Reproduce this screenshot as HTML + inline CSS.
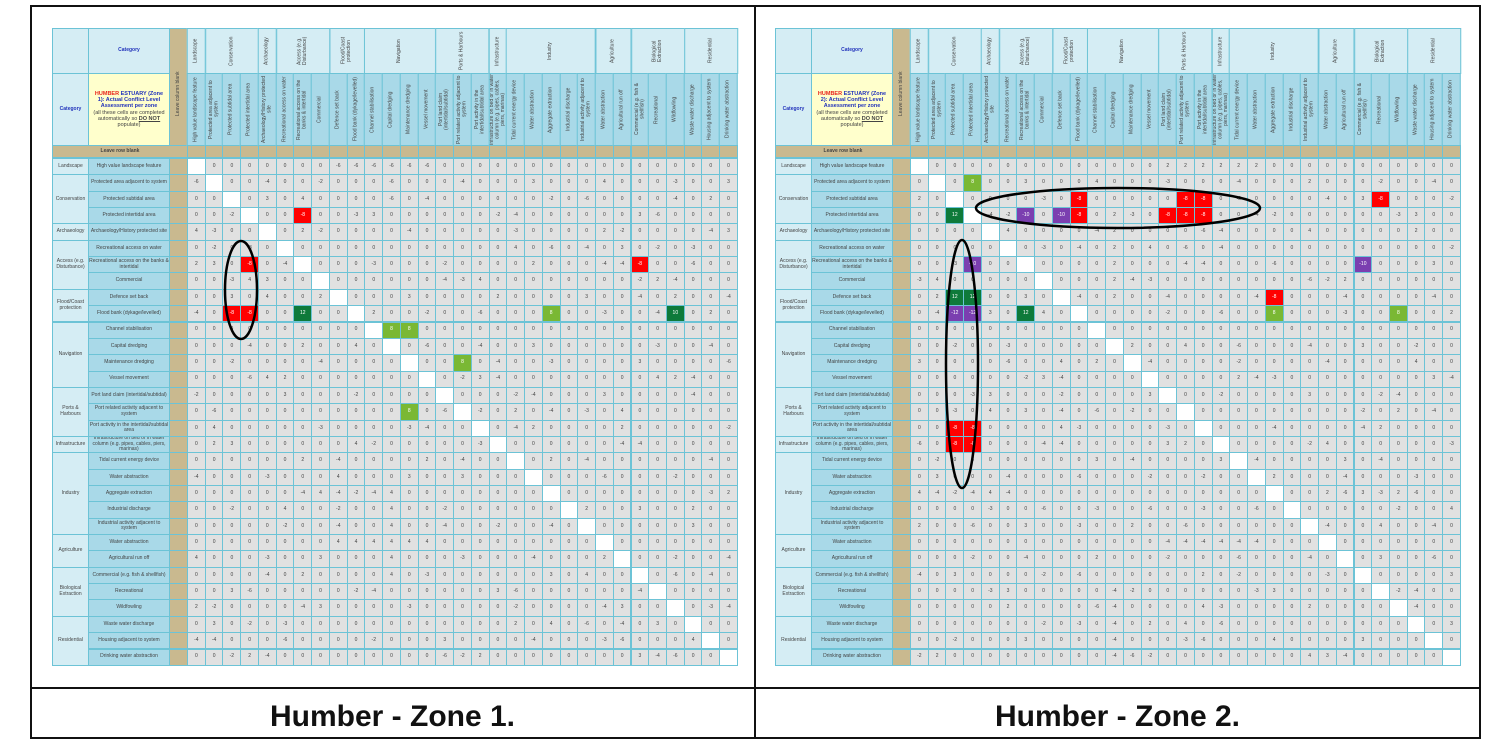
<!DOCTYPE html>
<html><head><meta charset="utf-8">
<style>
html,body{margin:0;padding:0;background:#fff;}
body{width:1500px;height:748px;position:relative;overflow:hidden;font-family:"Liberation Sans",sans-serif;}
.b{position:absolute;box-sizing:border-box;}
.c{position:absolute;box-sizing:border-box;display:flex;align-items:center;justify-content:center;text-align:center;font-size:5px;color:#444;line-height:1.1;overflow:hidden;}
.v{writing-mode:vertical-rl;transform:rotate(180deg);}
.title{position:absolute;top:697px;height:40px;line-height:40px;text-align:center;font-weight:bold;font-size:30px;color:#111;}
</style></head><body>
<div class="b" style="left:30px;top:5px;width:1451px;height:734px;border:2px solid #111;"></div>
<div class="b" style="left:30px;top:687px;width:1451px;height:2px;background:#111;"></div>
<div class="b" style="left:754px;top:5px;width:2px;height:734px;background:#111;"></div>
<div class="title" style="left:30px;width:725px;">Humber - Zone 1.</div>
<div class="title" style="left:755px;width:725px;">Humber - Zone 2.</div>
<div id="root"></div>
<svg class="b" style="left:0;top:0" width="1500" height="748">
<ellipse cx="241" cy="290" rx="16" ry="49" fill="none" stroke="#000" stroke-width="2.5"/>
<ellipse cx="1118" cy="208" rx="142" ry="20" fill="none" stroke="#000" stroke-width="2.5"/>
<ellipse cx="962" cy="364" rx="16" ry="124" fill="none" stroke="#000" stroke-width="2.5"/>
</svg>
<script>
var groups=[["Landscape",["High value landscape feature"]],
["Conservation",["Protected area adjacent to system","Protected subtidal area","Protected intertidal area"]],
["Archaeology",["Archaeology/History protected site"]],
["Access (e.g. Disturbance)",["Recreational access on water","Recreational access on the banks & intertidal","Commercial"]],
["Flood/Coast protection",["Defence set back","Flood bank (dykage/levelled)"]],
["Navigation",["Channel stabilisation","Capital dredging","Maintenance dredging","Vessel movement"]],
["Ports & Harbours",["Port land claim (intertidal/subtidal)","Port related activity adjacent to system","Port activity in the intertidal/subtidal area"]],
["Infrastructure",["Infrastructure on bed or in water column (e.g. pipes, cables, piers, marinas)"]],
["Industry",["Tidal current energy device","Water abstraction","Aggregate extraction","Industrial discharge","Industrial activity adjacent to system"]],
["Agriculture",["Water abstraction","Agricultural run off"]],
["Biological Extraction",["Commercial (e.g. fish & shellfish)","Recreational","Wildfowling"]],
["Residential",["Waste water discharge","Housing adjacent to system","Drinking water abstraction"]]];
var R="#f00",G="#7ab834",D="#0e7a3a",P="#7b3fb0";
var col1={"3,6":[R,"-8"],"6,3":[R,"-8"],"6,25":[R,"-8"],"9,2":[R,"-8"],"9,3":[R,"-8"],"9,6":[D,"12"],"9,27":[D,"10"],"9,20":[G,"8"],"10,11":[G,"8"],"10,12":[G,"8"],"12,12":[G,"8"],"12,15":[G,"8"],"15,12":[G,"8"]};
var col2={"1,3":[G,"8"],"2,9":[R,"-8"],"2,15":[R,"-8"],"2,16":[R,"-8"],"2,26":[R,"-8"],"3,2":[D,"12"],"3,6":[P,"-10"],"3,8":[P,"-10"],"3,9":[R,"-8"],"3,14":[R,"-8"],"3,15":[R,"-8"],"3,16":[R,"-8"],"6,3":[P,"-10"],"6,25":[P,"-10"],"8,2":[D,"12"],"8,3":[D,"12"],"8,20":[R,"-8"],"9,2":[P,"-12"],"9,3":[P,"-12"],"9,6":[D,"12"],"9,20":[G,"8"],"9,27":[G,"8"],"16,2":[R,"-8"],"16,3":[R,"-8"],"17,2":[R,"-8"],"17,3":[R,"-8"]};
var vals=[-2,-3,-4,2,4,-6,-4,3];
function build(L,zone,cols,seed){
 var h="";var cw=17.74,rh=16.35,dx=L+135,top=28;
 function box(x,y,w,hh,bg,txt,cls,st){h+='<div class="c '+(cls||'')+'" style="left:'+x+'px;top:'+y+'px;width:'+w+'px;height:'+hh+'px;background:'+bg+';border:1px solid #6cc3d6;'+(st||'')+'">'+(txt||'')+'</div>';}
 box(L,top,37,46,"#d5edf4",'');
 box(L+36,top,82,46,"#d5edf4",'<b style="color:#2233bb">Category</b>');
 box(L+117,top,19,131,"#c9b98f",'Leave column blank',"v");
 box(L,top+45,37,73,"#d5edf4",'<b style="color:#2233bb">Category</b>');
 box(L+36,top+45,82,73,"#ffffcc",'<span style="padding:2px"><b><span style="color:#e8261c">HUMBER</span> <span style="color:#2233bb">ESTUARY (Zone '+zone+'): Actual Conflict Level Assessment per zone</span></b><br>(all these cells are completed automatically so <b><u>DO NOT</u></b> populate)</span>',"","font-size:5.5px");
 box(L,top+117,136,13,"#c9b98f",'<b>Leave row blank</b>');
 var ci=0,ri=0;
 groups.forEach(function(g){
  box(dx+ci*cw,top,g[1].length*cw+1,46,"#d5edf4",g[0],"v");
  g[1].forEach(function(s){box(dx+ci*cw,top+45,cw+1,73,"#a9d9e8",s,"v");box(dx+ci*cw,top+117,cw+1,13,"#c9b98f","");ci++;});
 });
 var y0=158;
 groups.forEach(function(g){
  box(L,y0+ri*rh,37,g[1].length*rh+1,"#d5edf4",g[0]);
  g[1].forEach(function(s){
   box(L+36,y0+ri*rh,82,rh+1,"#a9d9e8",s);
   box(L+117,y0+ri*rh,19,rh+1,"#c9b98f","");
   for(var c=0;c<31;c++){
    var k=ri+","+c,bg="#e1e1e1",t="0",st="";
    if(ri==c){bg="#fff";t="";}
    else if(cols[k]){bg=cols[k][0];t=cols[k][1];st="color:#fff;";}
    else{var hv=(ri*37+c*91+seed*13+ri*c*7)%23;if(hv<6)t=vals[(ri+c+hv)%8];}
    h+='<div class="c" style="left:'+(dx+c*cw)+'px;top:'+(y0+ri*rh)+'px;width:'+(cw+1)+'px;height:'+(rh+1)+'px;background:#6cc3d6;padding:1px;"><div class="c" style="position:static;width:100%;height:100%;background:'+bg+';'+st+'">'+t+'</div></div>';
   }
   ri++;
  });
 });
 return h;
}
document.getElementById("root").innerHTML=build(52,1,col1,1)+build(775,2,col2,5);
</script>
</body></html>
